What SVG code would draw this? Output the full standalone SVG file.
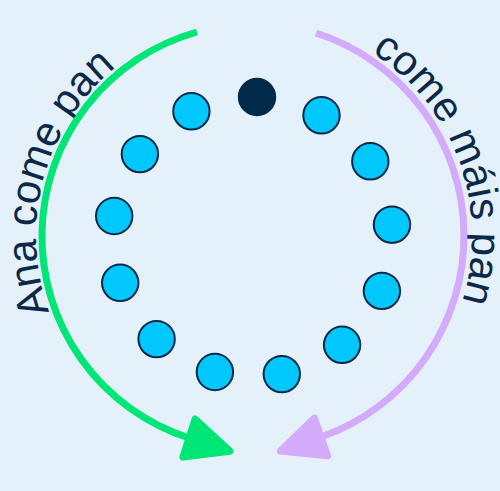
<svg xmlns="http://www.w3.org/2000/svg" xmlns:xlink="http://www.w3.org/1999/xlink" width="500" height="491" viewBox="0 0 500 491">
  <style>
    .dot { fill: #00C8FD; stroke: #0A2A4A; stroke-width: 2; }
    .dot-active { fill: #012A4A; stroke: #012A4A; stroke-width: 2; }
    .arc { fill: none; stroke-width: 7; }
    .label { font-family: "Liberation Sans", Arial, sans-serif; font-size: 42px; fill: #0B2848; }
  </style>
  <defs>
    <path id="leftText" d="M254,454 A218,218 0 1 1 254,18 A218,218 0 1 1 254,454"/>
    <path id="rightText" d="M254,18 A218,218 0 1 1 254,454 A218,218 0 1 1 254,18"/>
    <marker id="headGreen" markerUnits="userSpaceOnUse" orient="auto" refX="0" refY="0" markerWidth="60" markerHeight="60" viewBox="-10 -30 60 60" overflow="visible">
      <path d="M0,-20 L43,0 L0,20 Z" fill="#00E676" stroke="#00E676" stroke-width="7" stroke-linejoin="round"/>
    </marker>
    <marker id="headPurple" markerUnits="userSpaceOnUse" orient="auto" refX="0" refY="0" markerWidth="60" markerHeight="60" viewBox="-10 -30 60 60" overflow="visible">
      <path d="M0,-20 L43,0 L0,20 Z" fill="#D4ABFB" stroke="#D4ABFB" stroke-width="7" stroke-linejoin="round"/>
    </marker>
  </defs>
  <rect x="0" y="0" width="500" height="491" fill="#E4F1FA"/>

  <g id="labels">
    <text id="label-left" class="label"><textPath xlink:href="#leftText" href="#leftText" startOffset="265">Ana come pan</textPath></text>
    <text id="label-right" class="label"><textPath xlink:href="#rightText" href="#rightText" startOffset="124">come máis pan</textPath></text>
  </g>

  <g id="connectors">
    <path id="arrow-left" class="arc" stroke="#00E676" d="M197,32 A212,212 0 0 0 189,438" marker-end="url(#headGreen)"/>
    <path id="arrow-right" class="arc" stroke="#D4ABFB" d="M316,33 A213,213 0 0 1 321,437" marker-end="url(#headPurple)"/>
  </g>

  <g id="node-0"><circle class="dot-active" cx="257" cy="97" r="18.2"/></g>
  <g id="node-1"><circle class="dot" cx="321.5" cy="115.3" r="18.2"/></g>
  <g id="node-2"><circle class="dot" cx="370.3" cy="161.3" r="18.2"/></g>
  <g id="node-3"><circle class="dot" cx="392" cy="224.7" r="18.2"/></g>
  <g id="node-4"><circle class="dot" cx="381.9" cy="290.9" r="18.2"/></g>
  <g id="node-5"><circle class="dot" cx="342.1" cy="344.8" r="18.2"/></g>
  <g id="node-6"><circle class="dot" cx="281.8" cy="374.1" r="18.2"/></g>
  <g id="node-7"><circle class="dot" cx="214.9" cy="372" r="18.2"/></g>
  <g id="node-8"><circle class="dot" cx="156.6" cy="339.1" r="18.2"/></g>
  <g id="node-9"><circle class="dot" cx="120.2" cy="282.8" r="18.2"/></g>
  <g id="node-10"><circle class="dot" cx="114.2" cy="216" r="18.2"/></g>
  <g id="node-11"><circle class="dot" cx="139.9" cy="154.1" r="18.2"/></g>
  <g id="node-12"><circle class="dot" cx="191.4" cy="111.3" r="18.2"/></g>
</svg>
